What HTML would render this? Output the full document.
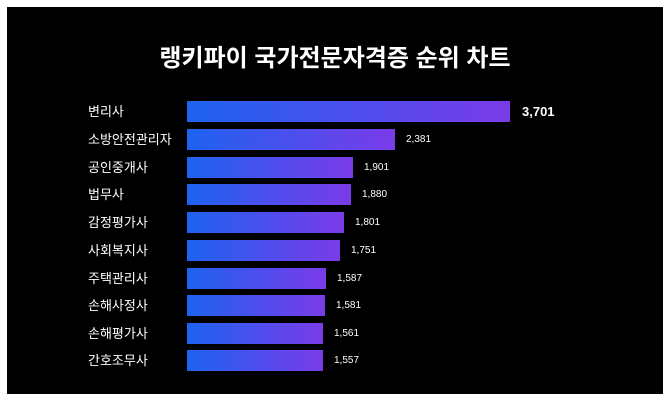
<!DOCTYPE html>
<html><head><meta charset="utf-8"><style>
body{margin:0;width:670px;height:402px;background:#fff;position:relative;overflow:hidden;font-family:"Liberation Sans","Noto Sans CJK KR",sans-serif}
#bg{position:absolute;left:7px;top:7px;width:656px;height:387px;background:#000}
.t{position:absolute;left:0;width:670px;top:38px;text-align:center;color:#fff;font-size:24px;font-weight:bold}
.l{position:absolute;left:88px;color:#fff;font-size:13px;line-height:21px}
.b{position:absolute;left:187px;height:21px;background:linear-gradient(90deg,#1d63f0,#7a3be9)}
.v{position:absolute;color:#fff;font-size:10px;line-height:21px}
</style></head><body><div id="bg"></div>
<div class="t">랭키파이 국가전문자격증 순위 차트</div>
<div class="l" style="top:101px">변리사</div><div class="b" style="top:101px;width:323px"></div><div class="v" style="top:101px;left:522px;font-size:13px;font-weight:bold">3,701</div>
<div class="l" style="top:129px">소방안전관리자</div><div class="b" style="top:129px;width:208px"></div><div class="v" style="top:129px;left:406px">2,381</div>
<div class="l" style="top:157px">공인중개사</div><div class="b" style="top:157px;width:166px"></div><div class="v" style="top:157px;left:364px">1,901</div>
<div class="l" style="top:184px">법무사</div><div class="b" style="top:184px;width:164px"></div><div class="v" style="top:184px;left:362px">1,880</div>
<div class="l" style="top:212px">감정평가사</div><div class="b" style="top:212px;width:157px"></div><div class="v" style="top:212px;left:355px">1,801</div>
<div class="l" style="top:240px">사회복지사</div><div class="b" style="top:240px;width:153px"></div><div class="v" style="top:240px;left:351px">1,751</div>
<div class="l" style="top:268px">주택관리사</div><div class="b" style="top:268px;width:139px"></div><div class="v" style="top:268px;left:337px">1,587</div>
<div class="l" style="top:295px">손해사정사</div><div class="b" style="top:295px;width:138px"></div><div class="v" style="top:295px;left:336px">1,581</div>
<div class="l" style="top:323px">손해평가사</div><div class="b" style="top:323px;width:136px"></div><div class="v" style="top:323px;left:334px">1,561</div>
<div class="l" style="top:350px">간호조무사</div><div class="b" style="top:350px;width:136px"></div><div class="v" style="top:350px;left:334px">1,557</div>
</body></html>
